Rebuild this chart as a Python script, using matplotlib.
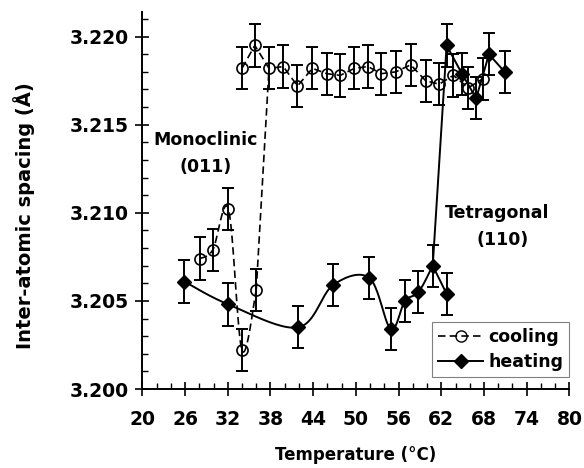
import matplotlib
matplotlib.use("Agg")
import matplotlib.pyplot as plt
from matplotlib.lines import Line2D
from matplotlib.ticker import MultipleLocator, FixedLocator, FormatStrFormatter
import numpy as np

# cooling, plateau (tetragonal side)
cool_hi_T = [34.0, 35.8, 37.8, 39.8, 41.8, 43.9, 45.9, 47.8, 49.8, 51.7,
             53.6, 55.6, 57.7, 59.8, 61.7, 63.7, 65.8, 67.8]
cool_hi_d = [3.2182, 3.2195, 3.2182, 3.2183, 3.2172, 3.2182, 3.2179, 3.2178, 3.2182, 3.2183,
             3.2179, 3.2180, 3.2184, 3.2175, 3.2173, 3.2178, 3.2171, 3.2176]
# cooling, low branch (monoclinic side)
cool_lo_T = [28.1, 29.9, 32.1, 34.0, 36.0]
cool_lo_d = [3.2074, 3.2079, 3.2102, 3.2022, 3.2056]

heat_T = [25.9, 32.1, 41.9, 46.8, 51.9, 54.9, 56.9, 58.8, 60.8, 62.75,
          64.9, 66.9, 68.7, 70.9]
heat_d = [3.2061, 3.2048, 3.2035, 3.2059, 3.2063, 3.2034, 3.2050, 3.2055, 3.2070, 3.2195,
          3.2179, 3.2165, 3.2190, 3.2180]
heat_lo_T = [62.75]
heat_lo_d = [3.2054]

err = 0.0012
x_ticks = np.arange(20, 81, 6)


def smooth(x, y, n=24):
    # bezier smoothing like a spreadsheet "smoothed line"
    p = np.column_stack([x, y])
    e = np.vstack([p[0], p, p[-1]])
    t = np.linspace(0, 1, n)[:, None]
    out = []
    for i in range(len(p) - 1):
        p0, p1, p2, p3 = e[i], e[i + 1], e[i + 2], e[i + 3]
        c1 = p1 + (p2 - p0) / 6
        c2 = p2 - (p3 - p1) / 6
        seg = (1 - t)**3 * p1 + 3 * (1 - t)**2 * t * c1 + 3 * (1 - t) * t**2 * c2 + t**3 * p2
        out.append(seg if i == 0 else seg[1:])
    s = np.vstack(out)
    return s[:, 0], s[:, 1]


plt.rcParams['font.family'] = ['DejaVu Sans']
plt.rcParams['font.weight'] = 'bold'

fig = plt.figure(figsize=(5.84, 4.68), dpi=100)
ax = fig.add_axes([0.2437, 0.1688, 0.975 - 0.2437, 0.9744 - 0.1688])

dash = (0, (4.5, 2.5))
k = dict(color='black', lw=1.2, ls=dash)
h = dict(color='black', lw=1.4)

# cooling lines
ax.plot(cool_hi_T, cool_hi_d, **k)
x, y = smooth(cool_lo_T, cool_lo_d)
ax.plot(x, y, **k)
ax.plot([cool_lo_T[-1], cool_hi_T[2]], [cool_lo_d[-1], cool_hi_d[2]], **k)

# heating lines
x, y = smooth(heat_T[:9], heat_d[:9])
ax.plot(x, y, **h)
ax.plot(heat_T[8:], heat_d[8:], **h)
ax.plot([heat_T[8], heat_lo_T[0]], [heat_d[8], heat_lo_d[0]], **h)

# error bars + markers
for T, d in [(cool_hi_T, cool_hi_d), (cool_lo_T, cool_lo_d)]:
    ax.errorbar(T, d, yerr=err, fmt='none', ecolor='black', elinewidth=1.4, capsize=4.5, capthick=1.4)
    ax.plot(T, d, ls='none', marker='o', ms=8, mfc='none', mec='black', mew=1.2)
for T, d in [(heat_T, heat_d), (heat_lo_T, heat_lo_d)]:
    ax.errorbar(T, d, yerr=err, fmt='none', ecolor='black', elinewidth=1.4, capsize=4.5, capthick=1.4)
    ax.plot(T, d, ls='none', marker='D', ms=7, mfc='black', mec='black')

ax.set_xlim(20, 80)
ax.set_ylim(3.200, 3.2214)
ax.xaxis.set_major_locator(FixedLocator(x_ticks))
ax.xaxis.set_minor_locator(MultipleLocator(2))
ax.yaxis.set_major_locator(MultipleLocator(0.005))
ax.yaxis.set_minor_locator(MultipleLocator(0.001))
ax.yaxis.set_major_formatter(FormatStrFormatter('%.3f'))

for s in ['top', 'right']:
    ax.spines[s].set_visible(False)
for s in ['left', 'bottom']:
    ax.spines[s].set_linewidth(1.4)

ax.tick_params(axis='both', which='major', direction='inout', length=10, width=1.2, labelsize=13.5)
ax.tick_params(axis='both', which='minor', direction='in', length=4, width=1)
ax.tick_params(axis='x', which='major', pad=10)
ax.tick_params(axis='y', which='major', pad=5)

ax.set_xlabel('Temperature (°C)', fontsize=12, fontweight='bold', labelpad=12)
ax.set_ylabel('Inter-atomic spacing (Å)', fontsize=14, fontweight='bold')
ax.yaxis.set_label_coords(-0.252, 0.459)

ax.text(28.95, 3.21415, 'Monoclinic', ha='center', va='center', fontsize=12.5, fontweight='bold')
ax.text(28.95, 3.21261, '(011)', ha='center', va='center', fontsize=12.5, fontweight='bold')
ax.text(69.8, 3.2100, 'Tetragonal', ha='center', va='center', fontsize=12.5, fontweight='bold')
ax.text(70.6, 3.20847, '(110)', ha='center', va='center', fontsize=12.5, fontweight='bold')

handles = [
    Line2D([], [], color='black', lw=1.2, ls=dash, marker='o', ms=8, mfc='none', mec='black'),
    Line2D([], [], color='black', lw=1.4, marker='D', ms=7, mfc='black', mec='black'),
]
leg = ax.legend(handles, ['cooling', 'heating'], loc='lower right', bbox_to_anchor=(1.0, 0.032),
                borderaxespad=0, fancybox=False, framealpha=1, edgecolor='gray',
                prop={'size': 12.5, 'weight': 'bold'}, handlelength=2.6, handletextpad=0.3,
                borderpad=0.35, labelspacing=0.4)
leg.get_frame().set_linewidth(0.8)

fig.savefig('out.png', dpi=100)
